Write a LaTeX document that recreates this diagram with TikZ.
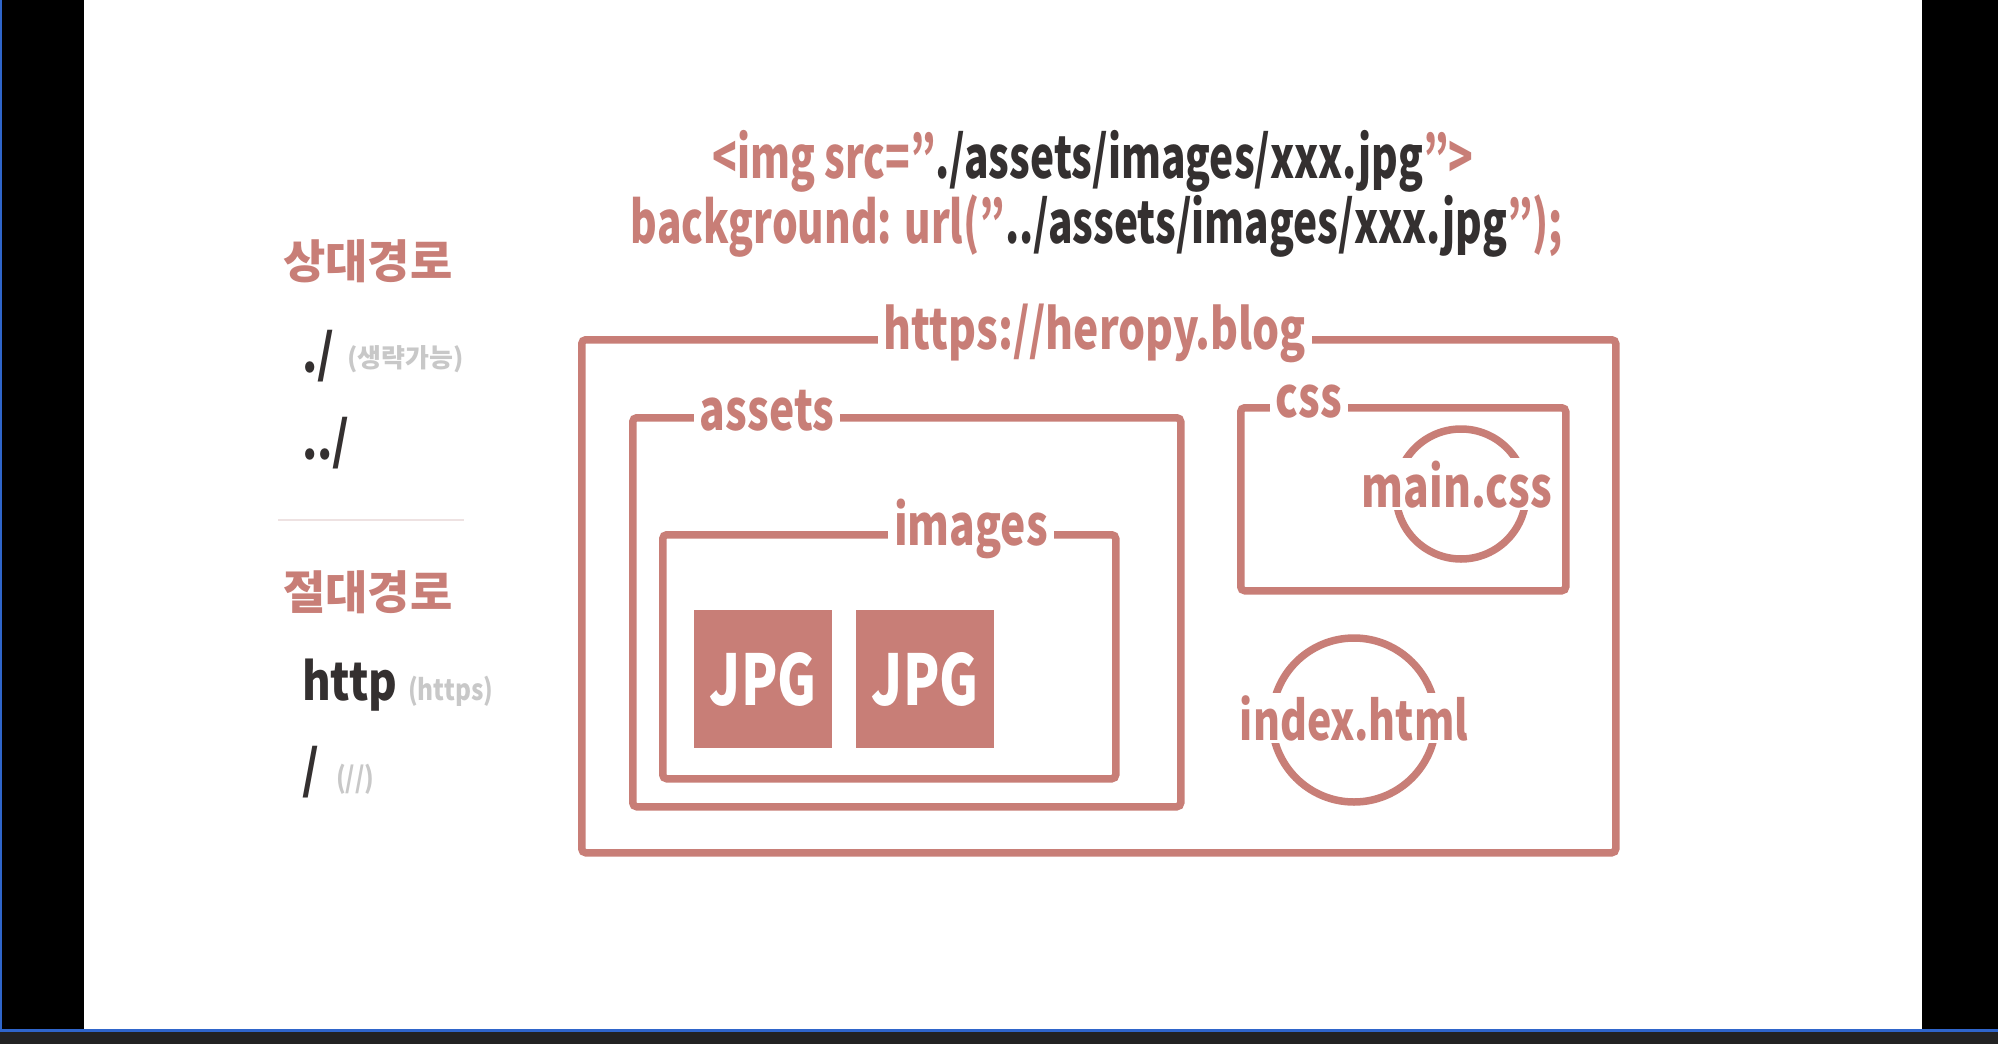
\documentclass[tikz,border=0pt]{standalone}
\usepackage{fontspec}
\setmainfont{Noto Sans CJK KR}
\newfontfamily\kr{Noto Sans CJK KR}
\newfontfamily\cond{Noto Sans CJK KR}[FakeStretch=0.76]
\newfontfamily\code{Noto Sans CJK KR}[FakeStretch=0.70]
\newfontfamily\semi{Noto Sans CJK KR}[FakeStretch=0.84]
\definecolor{rose}{RGB}{200,126,119}
\definecolor{ink}{RGB}{52,48,48}
\definecolor{soft}{RGB}{200,200,200}
\definecolor{frameblue}{RGB}{47,101,202}
\definecolor{barbg}{RGB}{34,34,34}
\definecolor{sepline}{RGB}{238,226,226}
\begin{document}
\begin{tikzpicture}[x=1pt,y=-1pt,
  box/.style={draw=rose, line width=7.5pt, rounded corners=4pt, inner sep=0pt, anchor=north west},
  ring/.style={draw=rose, line width=7.5pt, circle, inner sep=0pt},
  jpgbox/.style={fill=rose, inner sep=0pt, minimum size=138pt, anchor=north west, text=white, font=\cond\bfseries\fontsize{70}{70}\selectfont},
  lbl/.style={fill=white, inner xsep=6pt, inner ysep=2pt, text=rose, font=\cond\bfseries\fontsize{56}{60}\selectfont, anchor=base},
  codeline/.style={text=rose, font=\code\bfseries\fontsize{58}{60}\selectfont, anchor=base, inner sep=0pt},
  head/.style={text=rose, font=\kr\bfseries\fontsize{46}{50}\selectfont, anchor=west, inner sep=0pt},
  item/.style={text=ink, font=\semi\bfseries\fontsize{52}{56}\selectfont, anchor=base west, inner sep=0pt},
  note/.style={text=soft, font=\semi\bfseries\fontsize{29}{32}\selectfont, anchor=base west, inner sep=0pt},
  knote/.style={text=soft, font=\kr\bfseries\fontsize{26}{30}\selectfont, anchor=base west, inner sep=0pt}
]
\useasboundingbox (0,0) rectangle (1998,1044);
% screen frame
\fill[white] (0,0) rectangle (1998,1044);
\fill[black] (0,0) rectangle (84,1030);
\fill[black] (1922,0) rectangle (1998,1030);
\fill[frameblue] (0,0) rectangle (2,1032);
\fill[frameblue] (0,1029) rectangle (1998,1032);
\fill[barbg] (0,1032) rectangle (1998,1044);

% code lines
\node[codeline] (line1) at (1093,178) {<img src=”\textcolor{ink}{./assets/images/xxx.jpg}”>};
\node[codeline] (line2) at (1097,243) {background: url(”\textcolor{ink}{../assets/images/xxx.jpg}”);};

% left panel
\node[head] (rel) at (283,261) {상대경로};
\node[item] (dot1) at (302,372) {./};
\node[knote] (omit) at (347,367) {(생략가능)};
\node[item] (dot2) at (302,459) {../};
\draw[sepline, line width=1.5pt] (278,520) -- (464,520);
\node[head] (abs) at (283,592) {절대경로};
\node[item] (http) at (302,700) {http};
\node[note] (https) at (408,700) {(https)};
\node[item] (slash) at (302,788) {/};
\node[note] (dslash) at (336,788) {(//)};

% folders
\node[box, minimum width=1034pt, minimum height=513pt] (site) at (578,336) {};
\node[box, minimum width=548pt, minimum height=389pt] (assets) at (629,414) {};
\node[box, minimum width=453pt, minimum height=244pt] (images) at (659,531) {};
\node[box, minimum width=325pt, minimum height=183pt] (css) at (1237,404) {};
\node[jpgbox] (jpg1) at (694,610) {JPG};
\node[jpgbox] (jpg2) at (856,610) {JPG};
\node[ring, minimum size=130pt] (maincirc) at (1461,494) {};
\node[ring, minimum size=164pt] (indexcirc) at (1354,720) {};

% labels
\node[lbl] (sitelbl) at (1095,349) {https://heropy.blog};
\node[lbl] (assetslbl) at (767,430) {assets};
\node[lbl] (imageslbl) at (971,545) {images};
\node[lbl] (csslbl) at (1309,417) {css};
\node[lbl, inner xsep=2pt] (mainlbl) at (1457,507) {main.css};
\node[lbl, inner xsep=2pt, font=\cond\bfseries\fontsize{54}{60}\selectfont] (indexlbl) at (1354,740) {index.html};
\end{tikzpicture}
\end{document}
